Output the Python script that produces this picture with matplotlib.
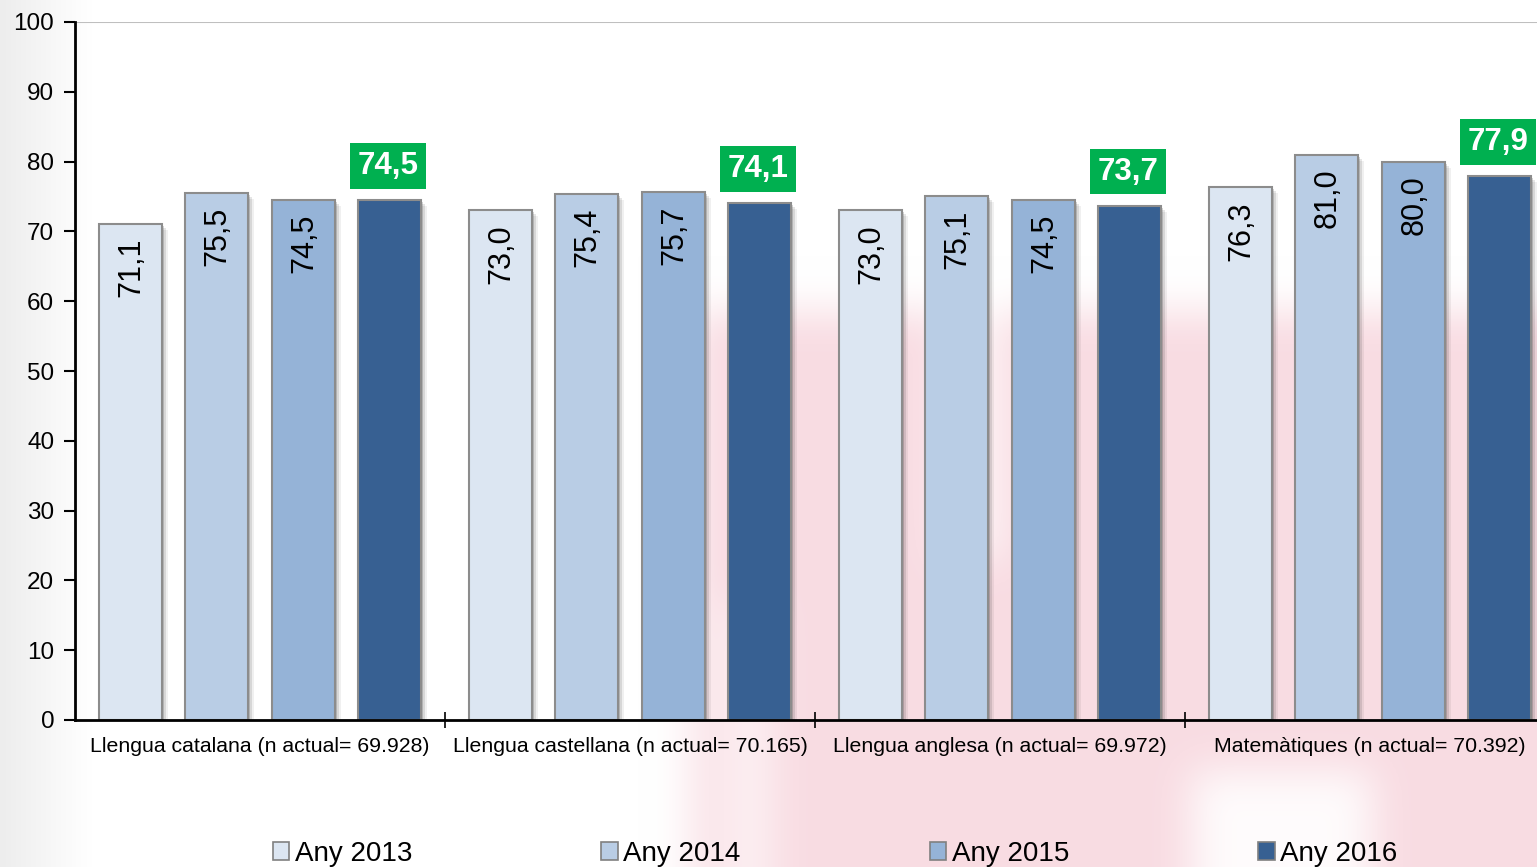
import numpy as np
import matplotlib.pyplot as plt
from matplotlib.patches import Patch

plt.rcParams['font.family'] = ['Liberation Sans', 'DejaVu Sans']

categories = ['Llengua catalana (n actual= 69.928)',
              'Llengua castellana (n actual= 70.165)',
              'Llengua anglesa (n actual= 69.972)',
              'Matemàtiques (n actual= 70.392)']
any_2013 = [71.1, 73.0, 73.0, 76.3]
any_2014 = [75.5, 75.4, 75.1, 81.0]
any_2015 = [74.5, 75.7, 74.5, 80.0]
any_2016 = [74.5, 74.1, 73.7, 77.9]
series_names = ['Any 2013', 'Any 2014', 'Any 2015', 'Any 2016']
series = [any_2013, any_2014, any_2015, any_2016]
colors = ['#DCE6F2', '#B9CDE5', '#95B3D7', '#376092']


def fmt(v):
    return f'{v:.1f}'.replace('.', ',')


def blur(a, n, passes=3):
    k = np.ones(n) / n
    for _ in range(passes):
        a = np.pad(a, n, mode='edge')
        a = np.apply_along_axis(lambda r: np.convolve(r, k, mode='same'), 1, a)
        a = np.apply_along_axis(lambda c: np.convolve(c, k, mode='same'), 0, a)
        a = a[n:-n, n:-n]
    return a


fig = plt.figure(figsize=(15.37, 8.67), dpi=100)

# faint background: grey fade on the left and pink watermark lower right
bg = fig.add_axes([0, 0, 1, 1], zorder=-10)
step = 3
yy, xx = np.mgrid[0:867 // step, 0:1537 // step] * step
pink = ((xx > 690) & (yy > 310)).astype(float)
pink[(xx > 1190) & (xx < 1370) & (yy > 770)] = 0.1
pink[(xx > 720) & (xx < 770) & (yy > 600)] = 0.4
pink[(xx > 940) & (xx < 1000) & (yy > 310) & (yy < 560)] = 0.3
pink = blur(pink, 13)
grey = np.clip(1 - xx / 90.0, 0, 1) * 0.07
pc = np.array([0.96, 0.78, 0.82])
rgb = np.ones(xx.shape + (3,))
rgb -= (pink * 0.62)[..., None] * (1 - pc)
rgb -= grey[..., None]
bg.imshow(np.clip(rgb, 0, 1), extent=[0, 1, 0, 1], aspect='auto', origin='upper')
bg.set_xlim(0, 1)
bg.set_ylim(0, 1)
bg.axis('off')

ax = fig.add_axes([75 / 1537, 1 - 720 / 867, 1480 / 1537, 698 / 867])
ax.set_facecolor('none')

x = np.arange(len(categories))
width = 0.17
px = 1 / 370

for i, (vals, col) in enumerate(zip(series, colors)):
    off = (i - 1.5) * 0.234
    vals = np.array(vals)
    for s, a in [(2, 0.16), (4, 0.10), (6, 0.06)]:
        ax.bar(x + off + s * px, vals - s / 6.98, width, color='black', alpha=a,
               linewidth=0, zorder=2)
    ax.bar(x + off, vals, width, color=col, edgecolor='#8C8C8C', linewidth=1.5,
           zorder=3)
    for xi, v in zip(x + off, vals):
        if i < 3:
            ax.annotate(fmt(v), (xi, v), xytext=(1, -14), textcoords='offset pixels',
                        rotation=90, ha='center', va='top', fontsize=22,
                        color='black', zorder=4)
        else:
            ax.annotate(fmt(v), (xi - 2 * px, v), xytext=(0, 19),
                        textcoords='offset pixels', ha='center', va='bottom',
                        fontsize=22.5, fontweight='bold', color='white', zorder=5,
                        bbox=dict(boxstyle='square,pad=0.25', fc='#00B050',
                                  ec='none'))

ax.axhline(100, color='#BFBFBF', linewidth=1.5, zorder=1)

ax.set_xlim(-0.5, 3.5)
ax.set_ylim(0, 100)
ax.set_yticks(np.arange(0, 101, 10))
ax.set_xticks([0.5, 1.5, 2.5])
ax.set_xticklabels([])
ax.set_xticks(x, minor=True)
ax.set_xticklabels(categories, minor=True, fontsize=15.3)
ax.tick_params(axis='x', which='major', direction='inout', length=11, width=1.2)
ax.tick_params(axis='x', which='minor', length=0, pad=12)
ax.tick_params(axis='y', direction='out', length=8, width=1.5, labelsize=17.5, pad=7)

for s in ['top', 'right']:
    ax.spines[s].set_visible(False)
ax.spines['left'].set_linewidth(2)
ax.spines['bottom'].set_linewidth(2)
ax.spines['bottom'].set_zorder(6)

handles = [Patch(facecolor=c, edgecolor='#808080', linewidth=1.2) for c in colors]
fig.legend(handles, series_names, loc='center', bbox_to_anchor=(835 / 1537, 1 - 854 / 867),
           ncol=4, frameon=False, fontsize=20, handlelength=0.6, handleheight=0.6,
           handletextpad=0.2, columnspacing=6.8)

fig.savefig('out.png', dpi=100)
